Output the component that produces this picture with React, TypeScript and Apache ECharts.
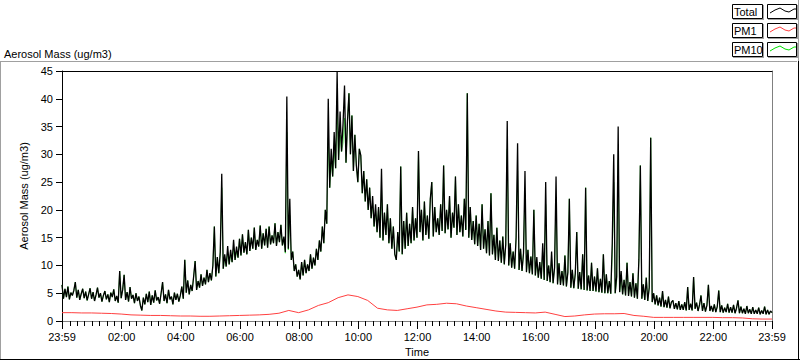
import React, { useEffect, useRef } from "react";
import * as echarts from "echarts";

// Sampling steps (minutes after the 23:59 start)
const TOTAL_STEP = 3;
const PM10_STEP = 3;
const PM1_STEP = 20;
const SPAN_MIN = 1440;

const X_TICK_LABELS = ["23:59", "02:00", "04:00", "06:00", "08:00", "10:00", "12:00", "14:00", "16:00", "18:00", "20:00", "22:00", "23:59"];
const Y_TICKS = [0, 5, 10, 15, 20, 25, 30, 35, 40, 45];

const TOTAL = [
  // 23:59 - 01:59
  6.5, 4.0, 5.8, 4.3, 6.2, 3.9, 5.1, 4.6, 5.5, 7.0, 4.2, 5.6, 3.8, 4.9, 5.8, 4.1, 5.3, 3.7, 4.8, 5.9,
  4.0, 5.2, 3.6, 4.7, 6.0, 4.2, 5.0, 3.5, 4.6, 5.4, 3.9, 4.8, 3.4, 5.1, 4.3, 5.7, 3.6, 4.5, 3.3, 9.0,
  // 01:59 - 03:59
  4.1, 5.6, 8.3, 3.8, 5.2, 3.5, 6.1, 4.0, 4.7, 3.2, 5.0, 3.6, 4.4, 2.8, 1.9, 4.2, 3.0, 4.9, 3.4, 5.3,
  2.9, 4.6, 3.3, 5.5, 3.7, 4.3, 3.1, 5.0, 7.0, 3.6, 4.8, 3.2, 5.6, 3.9, 4.4, 3.0, 5.1, 3.8, 4.9, 3.5,
  // 03:59 - 05:59
  4.6, 6.2, 4.0, 11.0, 5.1, 7.3, 4.8, 6.5, 5.4, 8.0, 10.8, 5.6, 7.2, 6.0, 8.4, 6.3, 7.8, 6.6, 9.2, 7.0,
  8.6, 7.3, 10.0, 17.0, 8.0, 11.5, 8.6, 12.4, 26.5, 9.4, 12.0, 9.8, 13.5, 10.2, 12.8, 10.6, 14.6, 11.0, 13.4, 11.4,
  // 05:59 - 07:59
  14.8, 11.8, 15.6, 12.3, 14.2, 12.0, 16.4, 12.6, 15.0, 13.0, 16.8, 12.8, 14.6, 13.4, 17.2, 13.0, 15.8, 13.6, 16.6, 13.2,
  17.0, 13.8, 15.4, 14.0, 17.6, 13.5, 16.0, 14.2, 17.3, 13.6, 15.2, 12.4, 40.4, 13.0, 22.0, 11.0, 12.5, 9.0, 10.2, 8.0,
  // 07:59 - 09:59
  9.2, 7.5, 10.6, 8.2, 11.0, 8.6, 10.2, 9.0, 12.0, 9.4, 11.4, 10.0, 13.0, 11.0, 14.5, 12.5, 17.0, 14.0, 20.0, 17.5,
  40.0, 24.0, 31.0, 26.0, 34.0, 27.5, 44.8, 29.0, 37.7, 30.5, 35.5, 42.4, 28.5, 36.0, 41.0, 30.0, 37.0, 27.0, 33.5, 28.0,
  // 09:59 - 11:59
  25.0, 31.0, 29.8, 23.0, 27.0, 21.5, 25.5, 20.0, 24.0, 18.5, 22.5, 17.0, 21.0, 16.0, 20.5, 15.0, 27.4, 14.5, 19.5, 15.5,
  21.0, 14.0, 18.5, 13.0, 17.0, 12.0, 11.0, 16.0, 12.5, 27.8, 12.0, 18.0, 13.0, 19.5, 13.5, 17.5, 14.0, 20.5, 14.5, 18.5,
  // 11:59 - 13:59
  15.0, 30.6, 16.0, 20.0, 14.5, 21.5, 15.5, 19.0, 14.8, 22.0, 25.0, 15.2, 20.5, 16.0, 18.5, 15.5, 21.0, 16.2, 28.0, 15.8,
  20.0, 16.5, 22.5, 15.0, 19.5, 16.8, 26.0, 15.5, 21.0, 16.0, 19.0, 15.2, 22.0, 16.4, 41.0, 15.0, 20.5, 14.6, 18.0, 13.8,
  // 13:59 - 15:59
  19.0, 13.5, 17.5, 12.8, 21.0, 13.0, 16.5, 12.2, 18.0, 11.8, 23.0, 12.0, 15.5, 11.0, 16.8, 10.8, 14.5, 10.5, 15.2, 10.2,
  13.8, 36.0, 10.0, 14.0, 9.6, 12.5, 9.4, 15.0, 32.0, 9.2, 13.0, 9.0, 12.2, 27.0, 8.8, 12.8, 8.6, 11.6, 8.4, 20.0,
  // 15:59 - 17:59
  8.2, 11.5, 7.8, 10.6, 7.6, 14.0, 7.4, 25.0, 7.2, 10.0, 7.0, 12.5, 6.8, 9.6, 26.0, 6.6, 10.4, 6.5, 9.0, 6.4,
  11.8, 6.2, 8.8, 22.0, 6.0, 9.2, 5.9, 8.5, 16.0, 5.8, 8.8, 5.7, 12.0, 5.6, 24.0, 5.5, 8.2, 5.4, 10.5, 5.4,
  // 17:59 - 19:59
  8.0, 5.3, 9.5, 5.2, 7.6, 5.1, 12.0, 5.0, 8.4, 5.0, 7.2, 4.9, 14.0, 30.0, 5.0, 8.0, 35.0, 5.2, 9.0, 4.8,
  7.4, 4.6, 10.5, 4.5, 7.0, 4.4, 8.6, 4.2, 6.8, 4.0, 11.0, 28.0, 4.0, 6.6, 3.8, 7.8, 3.6, 6.0, 33.0, 3.4,
  // 19:59 - 21:59
  5.0, 3.0, 4.6, 2.8, 4.2, 2.6, 5.4, 2.5, 3.8, 2.4, 4.4, 2.3, 3.4, 3.7, 2.2, 3.2, 2.1, 3.6, 2.0, 3.0,
  2.0, 3.4, 1.9, 6.1, 2.0, 3.1, 1.9, 7.9, 2.2, 3.3, 1.8, 2.9, 4.6, 1.8, 3.2, 1.7, 2.8, 6.5, 1.8, 2.7,
  // 21:59 - 23:59
  1.7, 3.0, 1.6, 2.6, 5.5, 1.6, 2.8, 1.5, 2.4, 1.6, 3.1, 1.5, 2.5, 1.5, 2.9, 1.4, 2.3, 3.7, 1.4, 2.6, 1.4,
  2.2, 1.3, 2.7, 1.4, 2.1, 1.3, 2.5, 1.3, 2.0, 1.3, 2.4, 1.2, 1.9, 1.3, 2.6, 1.2, 2.0, 1.2, 1.8, 1.5,
];

const PM10 = [
  // 23:59 - 01:59
  6.5, 4.0, 5.8, 4.3, 6.2, 3.9, 5.1, 4.6, 5.5, 7.0, 4.2, 5.6, 3.8, 4.9, 5.8, 4.1, 5.3, 3.7, 4.8, 5.9,
  4.0, 5.2, 3.6, 4.7, 6.0, 4.2, 5.0, 3.5, 4.6, 5.4, 3.9, 4.8, 3.4, 5.1, 4.3, 5.7, 3.6, 4.5, 3.3, 9.0,
  // 01:59 - 03:59
  4.1, 5.6, 8.3, 3.8, 5.2, 3.5, 6.1, 4.0, 4.7, 3.2, 5.0, 3.6, 4.4, 2.8, 1.9, 4.2, 3.0, 4.9, 3.4, 5.3,
  2.9, 4.6, 3.3, 5.5, 3.7, 4.3, 3.1, 5.0, 7.0, 3.6, 4.8, 3.2, 5.6, 3.9, 4.4, 3.0, 5.1, 3.8, 4.9, 3.5,
  // 03:59 - 05:59
  4.6, 6.2, 4.0, 11.0, 5.1, 7.3, 4.8, 6.5, 5.4, 8.0, 10.8, 5.6, 7.2, 6.0, 8.4, 6.3, 7.8, 6.6, 9.2, 7.0,
  8.6, 7.3, 10.0, 17.0, 8.0, 11.5, 8.6, 12.4, 24.0, 9.4, 11.2, 9.8, 12.4, 10.2, 11.8, 10.6, 13.2, 11.0, 12.4, 11.4,
  // 05:59 - 07:59
  14.8, 11.8, 15.6, 12.3, 14.2, 12.0, 16.4, 12.6, 15.0, 13.0, 16.8, 12.8, 14.6, 13.4, 17.2, 13.0, 15.8, 13.6, 16.6, 13.2,
  17.0, 13.8, 15.4, 14.0, 17.6, 13.5, 16.0, 14.2, 17.3, 13.6, 14.6, 12.2, 34.0, 12.8, 19.0, 11.0, 12.5, 9.0, 10.2, 8.0,
  // 07:59 - 09:59
  9.2, 7.5, 10.6, 8.2, 11.0, 8.6, 10.2, 9.0, 12.0, 9.4, 11.4, 10.0, 13.0, 11.0, 14.5, 12.5, 17.0, 14.0, 20.0, 17.5,
  33.0, 24.0, 28.5, 26.0, 30.5, 27.5, 38.0, 29.0, 33.5, 30.5, 32.0, 36.5, 28.5, 36.0, 41.0, 30.0, 37.0, 27.0, 33.5, 28.0,
  // 09:59 - 11:59
  25.0, 31.0, 29.8, 23.0, 27.0, 21.5, 25.5, 20.0, 24.0, 18.5, 21.2, 17.0, 19.8, 16.0, 20.5, 15.0, 24.0, 14.5, 19.5, 15.5,
  21.0, 14.0, 18.5, 13.0, 17.0, 12.0, 11.0, 16.0, 12.5, 27.8, 12.0, 18.0, 13.0, 19.5, 13.5, 17.5, 14.0, 20.5, 14.5, 18.5,
  // 11:59 - 13:59
  15.0, 30.6, 16.0, 20.0, 14.5, 21.5, 15.5, 19.0, 14.8, 22.0, 25.0, 15.2, 20.5, 16.0, 18.5, 15.5, 21.0, 16.2, 28.0, 15.8,
  20.0, 16.5, 22.5, 15.0, 19.5, 16.8, 26.0, 15.5, 21.0, 16.0, 19.0, 15.2, 22.0, 16.4, 41.0, 15.0, 20.5, 14.6, 18.0, 13.8,
  // 13:59 - 15:59
  19.0, 13.5, 17.5, 12.8, 21.0, 13.0, 16.5, 12.2, 18.0, 11.8, 23.0, 12.0, 15.5, 11.0, 16.8, 10.8, 14.5, 10.5, 15.2, 10.2,
  13.8, 31.0, 10.0, 14.0, 9.6, 12.5, 9.4, 15.0, 27.0, 9.2, 13.0, 9.0, 12.2, 23.0, 8.8, 12.8, 8.6, 11.6, 8.4, 20.0,
  // 15:59 - 17:59
  8.2, 10.4, 7.8, 10.6, 7.6, 12.4, 7.4, 21.0, 7.2, 10.0, 7.0, 11.2, 6.8, 9.6, 22.0, 6.6, 10.4, 6.5, 9.0, 6.4,
  11.8, 6.2, 8.8, 22.0, 6.0, 9.2, 5.9, 8.5, 16.0, 5.8, 8.8, 5.7, 12.0, 5.6, 24.0, 5.5, 8.2, 5.4, 10.5, 5.4,
  // 17:59 - 19:59
  8.0, 5.3, 9.5, 5.2, 7.6, 5.1, 12.0, 5.0, 8.4, 5.0, 7.2, 4.9, 12.0, 25.0, 5.0, 7.2, 29.0, 5.2, 8.0, 4.8,
  7.4, 4.6, 10.5, 4.5, 7.0, 4.4, 8.6, 4.2, 6.8, 4.0, 11.0, 28.0, 4.0, 6.6, 3.8, 7.8, 3.6, 6.0, 33.0, 3.4,
  // 19:59 - 21:59
  5.0, 3.0, 4.6, 2.8, 4.2, 2.6, 5.4, 2.5, 3.8, 2.4, 4.4, 2.3, 3.4, 3.7, 2.2, 3.2, 2.1, 3.6, 2.0, 3.0,
  2.0, 3.4, 1.9, 6.1, 2.0, 3.1, 1.9, 7.9, 2.2, 3.3, 1.8, 2.9, 4.6, 1.8, 3.2, 1.7, 2.8, 6.5, 1.8, 2.7,
  // 21:59 - 23:59
  1.7, 3.0, 1.6, 2.6, 5.5, 1.6, 2.8, 1.5, 2.4, 1.6, 3.1, 1.5, 2.5, 1.5, 2.9, 1.4, 2.3, 3.7, 1.4, 2.6, 1.4,
  2.2, 1.3, 2.7, 1.4, 2.1, 1.3, 2.5, 1.3, 2.0, 1.3, 2.4, 1.2, 1.9, 1.3, 2.6, 1.2, 2.0, 1.2, 1.8, 1.5,
];

const PM1 = [
  1.5, 1.5, 1.45, 1.45, 1.4, 1.35,
  1.25, 1.1, 1.05, 1.0, 1.0, 0.95,
  0.9, 0.9, 0.85, 0.85, 0.9, 0.95,
  1.0, 1.05, 1.1, 1.2, 1.4, 1.9,
  1.5, 2.0, 2.8, 3.3, 4.2, 4.7,
  4.4, 3.7, 2.3, 2.0, 1.9, 2.2,
  2.5, 2.9, 3.0, 3.2, 3.1, 2.7,
  2.4, 2.1, 1.8, 1.6, 1.55, 1.5,
  1.45, 1.6, 1.2, 0.8, 0.9, 1.1,
  1.25, 1.3, 1.3, 1.35, 1.0, 0.85,
  0.65, 0.65, 0.65, 0.65, 0.65, 0.65,
  0.65, 0.6, 0.6, 0.55, 0.4, 0.35, 0.35,
];

const FONT = "'Liberation Sans', Arial, sans-serif";

function toSeries(values: number[], step: number) {
  return values.map((v, i) => [i * step, v]);
}

function fmtClock(v: number) {
  const m = ((Math.round(v) - 1) % 1440 + 1440) % 1440;
  const h = Math.floor(m / 60);
  const mm = m % 60;
  return String(h).padStart(2, "0") + ":" + String(mm).padStart(2, "0");
}

const MAJOR_VALUES = X_TICK_LABELS.map((_, i) => (i === 0 ? 0 : i === X_TICK_LABELS.length - 1 ? SPAN_MIN : 1 + i * 120));
const MINOR_VALUES: number[] = [];
for (let k = 1; 1 + k * 15 < SPAN_MIN; k++) MINOR_VALUES.push(1 + k * 15);

function legendRow(label: string, color: string, y: number) {
  const zig = [[2, 9], [7, 6], [12, 4], [17, 7], [21, 8], [26, 5], [28, 5]];
  return [
    { type: "rect", shape: { x: 732.5, y: y + 0.5, width: 30, height: 14 }, style: { fill: "#fff", stroke: "#000", lineWidth: 1 } },
    { type: "line", shape: { x1: 733, y1: y + 15.5, x2: 764, y2: y + 15.5 }, style: { stroke: "#a0a0a0", lineWidth: 1 } },
    { type: "line", shape: { x1: 763.5, y1: y + 1, x2: 763.5, y2: y + 16 }, style: { stroke: "#a0a0a0", lineWidth: 1 } },
    { type: "text", x: 734, y: y + 8, style: { text: label, fill: "#000", font: "11px " + FONT, verticalAlign: "middle", align: "left" } },
    { type: "rect", shape: { x: 767.5, y: y + 0.5, width: 29, height: 14 }, style: { fill: "#fff", stroke: "#000", lineWidth: 1 } },
    { type: "line", shape: { x1: 768, y1: y + 15.5, x2: 798, y2: y + 15.5 }, style: { stroke: "#a0a0a0", lineWidth: 1 } },
    { type: "line", shape: { x1: 797.5, y1: y + 1, x2: 797.5, y2: y + 16 }, style: { stroke: "#a0a0a0", lineWidth: 1 } },
    { type: "polyline", shape: { points: zig.map(([a, b]) => [768 + a, y + b]) }, style: { stroke: color, lineWidth: 1, fill: null } },
  ];
}

export default function App() {
  const ref = useRef<HTMLDivElement>(null);
  useEffect(() => {
    if (!ref.current) return;
    const chart = echarts.init(ref.current, null, { renderer: "svg" });
    const axisText = { color: "#000", fontFamily: FONT, fontSize: 11 };
    chart.setOption({
      animation: false,
      backgroundColor: "#fff",
      textStyle: { fontFamily: FONT },
      grid: { left: 62, top: 71, width: 710, height: 250, outerBoundsMode: "none", containLabel: false },
      xAxis: [
        {
          type: "value", min: 0, max: SPAN_MIN, position: "bottom",
          name: "Time", nameLocation: "middle", nameGap: 25, nameTextStyle: { ...axisText },
          axisLine: { show: true, onZero: false, lineStyle: { color: "#808080", width: 1 } },
          axisTick: { show: true, length: 8, customValues: MAJOR_VALUES, lineStyle: { color: "#000" } },
          axisLabel: { ...axisText, margin: 10, customValues: MAJOR_VALUES, formatter: (v: number) => fmtClock(v) },
          splitLine: { show: false },
        },
        {
          type: "value", min: 0, max: SPAN_MIN, position: "bottom",
          axisLine: { show: false, onZero: false },
          axisTick: { show: true, length: 5, customValues: MINOR_VALUES, lineStyle: { color: "#000" } },
          axisLabel: { show: false },
          splitLine: { show: false },
        },
        {
          type: "value", min: 0, max: SPAN_MIN, position: "top",
          axisLine: { show: true, onZero: false, lineStyle: { color: "#000", width: 1 } },
          axisTick: { show: false }, axisLabel: { show: false }, splitLine: { show: false },
        },
      ],
      yAxis: [
        {
          type: "value", min: 0, max: 45, interval: 5, position: "left",
          name: "Aerosol Mass (ug/m3)", nameLocation: "middle", nameGap: 16, nameRotate: 90,
          nameTextStyle: { ...axisText },
          axisLine: { show: true, onZero: false, lineStyle: { color: "#000", width: 1 } },
          axisTick: { show: true, length: 6, lineStyle: { color: "#000" } },
          axisLabel: { ...axisText, margin: 9, customValues: Y_TICKS },
          splitLine: { show: false },
        },
        {
          type: "value", min: 0, max: 45, position: "right",
          axisLine: { show: true, onZero: false, lineStyle: { color: "#808080", width: 1 } },
          axisTick: { show: false }, axisLabel: { show: false }, splitLine: { show: false },
        },
      ],
      graphic: [
        { type: "line", shape: { x1: 0, y1: 61.5, x2: 797, y2: 61.5 }, style: { stroke: "#a0a0a0", lineWidth: 1 } },
        { type: "line", shape: { x1: 0.5, y1: 61, x2: 0.5, y2: 360 }, style: { stroke: "#a0a0a0", lineWidth: 1 } },
        { type: "line", shape: { x1: 0, y1: 359.5, x2: 800, y2: 359.5 }, style: { stroke: "#000", lineWidth: 1 } },
        { type: "line", shape: { x1: 798.5, y1: 0, x2: 798.5, y2: 61 }, style: { stroke: "#a0a0a0", lineWidth: 1 } },
        { type: "line", shape: { x1: 798.5, y1: 61, x2: 798.5, y2: 360 }, style: { stroke: "#000", lineWidth: 1 } },
        { type: "text", x: 4, y: 54, style: { text: "Aerosol Mass (ug/m3)", fill: "#000", font: "11px " + FONT, verticalAlign: "middle" } },
        ...legendRow("Total", "#000000", 4),
        ...legendRow("PM1", "#ff4040", 23),
        ...legendRow("PM10", "#00e000", 42),
      ],
      series: [
        { name: "PM10", type: "line", data: toSeries(PM10, PM10_STEP), showSymbol: false, symbol: "none", lineStyle: { color: "#00e000", width: 0.6 }, itemStyle: { color: "#00e000" }, z: 2 },
        { name: "PM1", type: "line", data: toSeries(PM1, PM1_STEP), showSymbol: false, symbol: "none", lineStyle: { color: "#ff4040", width: 1 }, itemStyle: { color: "#ff4040" }, z: 3 },
        { name: "Total", type: "line", data: toSeries(TOTAL, TOTAL_STEP), showSymbol: false, symbol: "none", lineStyle: { color: "#000000", width: 1.3 }, itemStyle: { color: "#000" }, z: 4 },
      ],
    });
    return () => chart.dispose();
  }, []);
  return <div ref={ref} style={{ position: "fixed", left: 0, top: 0, width: 800, height: 361 }} />;
}
